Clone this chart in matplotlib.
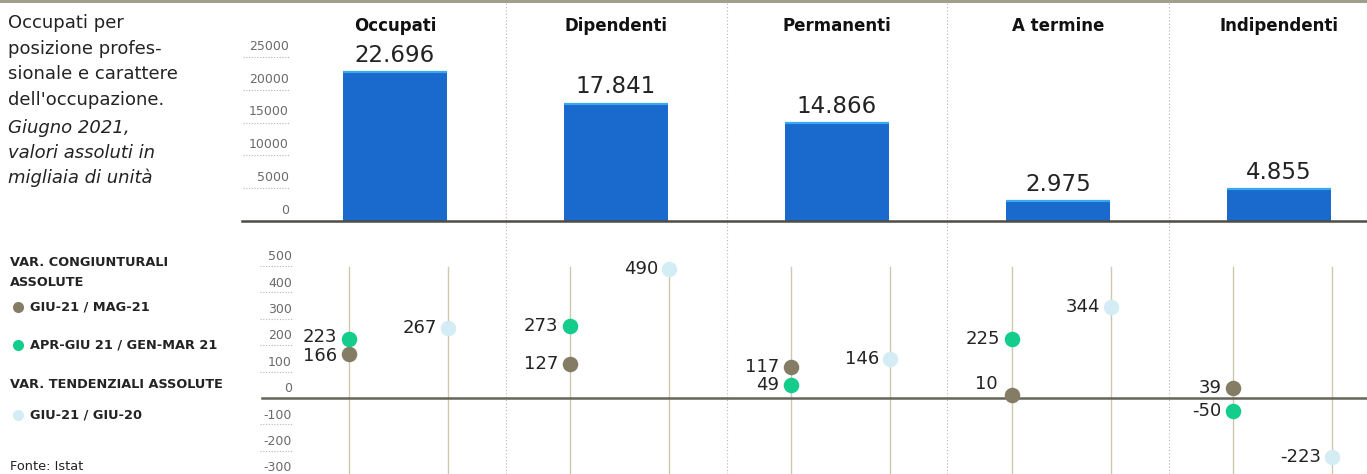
import matplotlib
matplotlib.use("Agg")
import matplotlib.pyplot as plt
from matplotlib.lines import Line2D

# ---- data (thousands of people, June 2021) ----
categories = ["Occupati", "Dipendenti", "Permanenti", "A termine", "Indipendenti"]
occupati = [22696, 17841, 14866, 2975, 4855]
occupati_labels = ["22.696", "17.841", "14.866", "2.975", "4.855"]

var_mese = [166, 127, 117, 10, 39]          # GIU-21 / MAG-21
var_trim = [223, 273, 49, 225, -50]         # APR-GIU 21 / GEN-MAR 21
var_anno = [267, 490, 146, 344, -223]       # GIU-21 / GIU-20

top_ticks = [0, 5000, 10000, 15000, 20000, 25000]
bottom_ticks = [-300, -200, -100, 0, 100, 200, 300, 400, 500]

title_lines = ["Occupati per", "posizione profes-", "sionale e carattere",
               "dell'occupazione."]
subtitle_lines = ["Giugno 2021,", "valori assoluti in", "migliaia di unità"]
legend_head1 = ["VAR. CONGIUNTURALI", "ASSOLUTE"]
legend_head2 = "VAR. TENDENZIALI ASSOLUTE"
legend_items = ["GIU-21 / MAG-21", "APR-GIU 21 / GEN-MAR 21", "GIU-21 / GIU-20"]
source = "Fonte: Istat"

# ---- style ----
W, H = 1367, 474
BAR = "#1a69cc"
BAR_TOP = "#3aa8ee"
C_MESE = "#857c66"
C_TRIM = "#14cc8c"
C_ANNO = "#d4ecf4"
STEM = "#cfc7b2"
TXT = "#232323"
TICK = "#6a6a6a"
GRID = "#b5b5b5"

fig = plt.figure(figsize=(W / 100, H / 100), dpi=100)
fig.patch.set_facecolor("white")

def fx(px):
    return px / W

def fy(py):
    return 1 - py / H

# layout in pixels
ax_left, split, zero_px = 240, 221, 398
x0_px, step_px = 395, 221
xlim = ((ax_left - x0_px) / step_px, (W - x0_px) / step_px)

def xd(px):
    return (px - x0_px) / step_px

ax_top = fig.add_axes([fx(ax_left), fy(split), fx(W - ax_left), split / H])
ax_bot = fig.add_axes([fx(ax_left), 0, fx(W - ax_left), (H - split) / H])

top_scale = 32.8 / 5000        # px per unit
bot_scale = 26.4 / 100
ax_top.set_ylim(0, split / top_scale)
ax_bot.set_ylim(-(H - zero_px) / bot_scale, (zero_px - split) / bot_scale)

for ax in (ax_top, ax_bot):
    ax.set_xlim(*xlim)
    ax.axis("off")
    for i in range(1, len(categories)):
        ax.axvline(i - 0.5, color=GRID, lw=0.8, ls=(0, (1, 2)), zorder=0)

xs = list(range(len(categories)))

# ---- top panel: bars ----
bw = 0.475
ax_top.bar(xs, occupati, width=bw, color=BAR, zorder=2)
for x, v, lab in zip(xs, occupati, occupati_labels):
    ax_top.plot([x - bw / 2, x + bw / 2], [v, v], color=BAR_TOP, lw=1.6,
                zorder=3, solid_capstyle="butt")
    ax_top.annotate(lab, (x, v), xytext=(0, 4), textcoords="offset points",
                    ha="center", va="bottom", fontsize=16.5, color=TXT)
ax_top.plot([xd(242), xlim[1]], [0, 0], color="#4f4c45", lw=1.8, zorder=4,
            clip_on=False)
for t in top_ticks[1:]:
    ax_top.plot([xd(243), xd(289)], [t, t], color=GRID, lw=0.8,
                ls=(0, (1, 1.5)), clip_on=False)
for t in top_ticks:
    ax_top.annotate(f"{t}", (xd(289), t), xytext=(0, 3),
                    textcoords="offset points", ha="right", va="bottom",
                    fontsize=9, color=TICK)

# ---- headings ----
for x, c in zip(xs, categories):
    fig.text(fx(x0_px + step_px * x), fy(26), c, ha="center", va="center",
             fontsize=12, fontweight="bold", color="#111111")

# ---- bottom panel: dot plot ----
off_l, off_r = -0.21, 0.24
stem_top = (H - 267) / (H - split)
for x in xs:
    for o in (off_l, off_r):
        ax_bot.axvline(x + o, ymin=0, ymax=stem_top, color=STEM, lw=1.0,
                       zorder=1)
ax_bot.plot([xd(262), xlim[1]], [0, 0], color="#66655a", lw=1.8, zorder=2,
            clip_on=False)
for t in bottom_ticks:
    if t != 0:
        ax_bot.plot([xd(260), xd(292)], [t, t], color=GRID, lw=0.8,
                    ls=(0, (1, 1.5)), clip_on=False)
    ax_bot.annotate(f"{t}", (xd(292), t), xytext=(0, 2),
                    textcoords="offset points", ha="right", va="bottom",
                    fontsize=9, color=TICK, annotation_clip=False)

# small label nudges (points) where two labels sit close together
nudge = {(3, "mese"): (-2, 8), (0, "trim"): (0, 1.5), (0, "mese"): (0, -1.5)}
series = [("mese", var_mese, C_MESE, off_l),
          ("trim", var_trim, C_TRIM, off_l),
          ("anno", var_anno, C_ANNO, off_r)]
for name, vals, col, o in series:
    px = [x + o for x in xs]
    ax_bot.scatter(px, vals, s=125, color=col, zorder=5, linewidths=0)
    for x, v in zip(px, vals):
        dx, dy = nudge.get((round(x - o), name), (0, 0))
        ax_bot.annotate(f"{v}", (x, v), xytext=(-8 + dx, dy),
                        textcoords="offset points", ha="right",
                        va="center", fontsize=13, color=TXT, zorder=6)

# ---- left text block ----
for i, line in enumerate(title_lines):
    fig.text(fx(8), fy(23 + 25.6 * i), line, ha="left", va="center",
             fontsize=13, color=TXT)
for i, line in enumerate(subtitle_lines):
    fig.text(fx(8), fy(128 + 25 * i), line, ha="left", va="center",
             fontsize=13, color=TXT, style="italic")

fig.text(fx(10), fy(263), legend_head1[0], ha="left", va="center",
         fontsize=9.3, fontweight="bold", color=TXT)
fig.text(fx(10), fy(283), legend_head1[1], ha="left", va="center",
         fontsize=9.3, fontweight="bold", color=TXT)
fig.text(fx(10), fy(385), legend_head2, ha="left", va="center",
         fontsize=9.3, fontweight="bold", color=TXT)
for py, lab, col in zip([307, 345, 415], legend_items, [C_MESE, C_TRIM, C_ANNO]):
    fig.add_artist(Line2D([fx(18)], [fy(py)], marker="o", markersize=8,
                          color=col, markeredgewidth=0, transform=fig.transFigure))
    fig.text(fx(30), fy(py), lab, ha="left", va="center", fontsize=9.3,
             fontweight="bold", color=TXT)
fig.text(fx(10), fy(467), source, ha="left", va="center", fontsize=9.3,
         color=TXT)

# top rule
fig.add_artist(Line2D([0, 1], [fy(1.2), fy(1.2)], color="#a09e8c", lw=2.2,
                      transform=fig.transFigure))

fig.savefig("out.png", dpi=100, facecolor="white")
